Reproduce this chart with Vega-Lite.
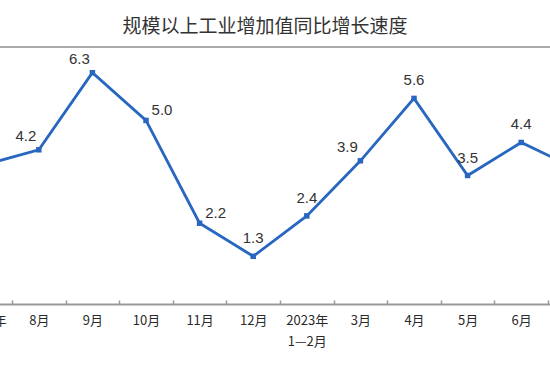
{
  "$schema": "https://vega.github.io/schema/vega-lite/v6.json",
  "width": 550,
  "height": 257,
  "autosize": "none",
  "padding": {"left": 0, "right": 0, "top": 47, "bottom": 74},
  "background": "white",
  "title": {
    "text": "规模以上工业增加值同比增长速度",
    "font": "Noto Sans CJK SC",
    "fontSize": 19,
    "fontWeight": "normal",
    "color": "#333333",
    "offset": 9,
    "dx": -10
  },
  "config": {"view": {"stroke": null}},
  "data": {
    "values": [
      {"month": "2022年\n7月", "value": 3.8, "pos": "above"},
      {"month": "8月", "value": 4.2, "pos": "left"},
      {"month": "9月", "value": 6.3, "pos": "left"},
      {"month": "10月", "value": 5.0, "pos": "right"},
      {"month": "11月", "value": 2.2, "pos": "right"},
      {"month": "12月", "value": 1.3, "pos": "above"},
      {"month": "2023年\n1—2月", "value": 2.4, "pos": "above"},
      {"month": "3月", "value": 3.9, "pos": "left"},
      {"month": "4月", "value": 5.6, "pos": "above"},
      {"month": "5月", "value": 3.5, "pos": "above"},
      {"month": "6月", "value": 4.4, "pos": "above"},
      {"month": "7月", "value": 3.7, "pos": "above"}
    ]
  },
  "encoding": {
    "x": {
      "field": "month",
      "type": "ordinal",
      "sort": null,
      "scale": {"type": "band", "range": [-41.6, 601.6], "paddingInner": 0, "paddingOuter": 0},
      "axis": {
        "title": null,
        "labelAngle": 0,
        "labelExpr": "split(datum.label, '\\n')",
        "labelFont": "Noto Sans CJK SC",
        "labelFontSize": 13,
        "labelColor": "#2a2a2a",
        "labelLineHeight": 21,
        "labelPadding": 14,
        "tickBand": "extent",
        "tickSize": -4,
        "tickColor": "#999999",
        "tickWidth": 1.5,
        "domainColor": "#999999",
        "domainWidth": 2,
        "labelOverlap": false
      }
    },
    "y": {
      "field": "value",
      "type": "quantitative",
      "scale": {"domain": [0, 7], "nice": false, "zero": true},
      "axis": null
    }
  },
  "layer": [
    {
      "mark": {"type": "rule", "color": "#aaaaaa", "strokeWidth": 1.5},
      "encoding": {"x": {"value": 0}, "x2": {"value": 550}, "y": {"datum": 7}}
    },
    {
      "mark": {"type": "line", "color": "#2866c0", "strokeWidth": 2.8}
    },
    {
      "mark": {"type": "point", "shape": "square", "filled": true, "size": 30, "color": "#2866c0", "opacity": 1}
    },
    {
      "transform": [{"filter": "datum.pos == 'above'"}],
      "mark": {"type": "text", "dy": -18, "font": "Liberation Sans", "fontSize": 15, "color": "#333333"},
      "encoding": {"text": {"field": "value", "type": "quantitative", "format": ".1f"}}
    },
    {
      "transform": [{"filter": "datum.pos == 'left'"}],
      "mark": {"type": "text", "dx": -13, "dy": -14, "font": "Liberation Sans", "fontSize": 15, "color": "#333333"},
      "encoding": {"text": {"field": "value", "type": "quantitative", "format": ".1f"}}
    },
    {
      "transform": [{"filter": "datum.pos == 'right'"}],
      "mark": {"type": "text", "dx": 16, "dy": -10, "font": "Liberation Sans", "fontSize": 15, "color": "#333333"},
      "encoding": {"text": {"field": "value", "type": "quantitative", "format": ".1f"}}
    }
  ]
}
